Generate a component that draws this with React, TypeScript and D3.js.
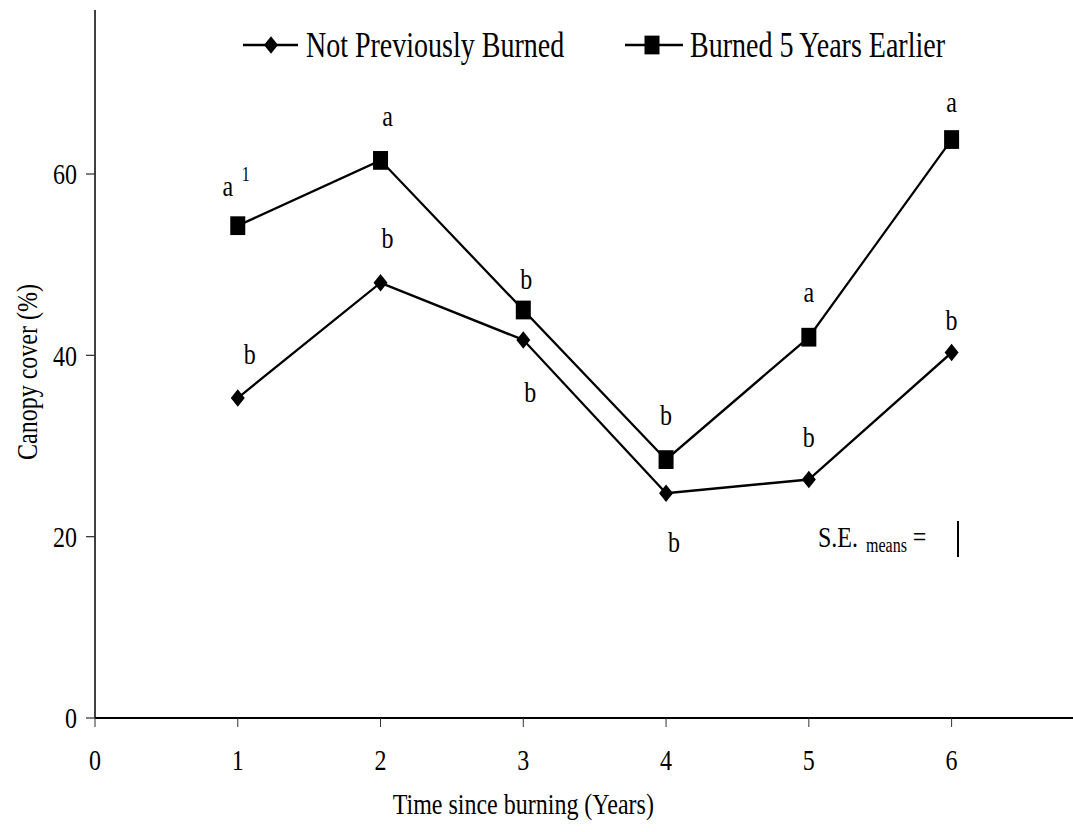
import * as d3 from 'd3'

// values
const years = [1, 2, 3, 4, 5, 6]
const notBurned = [35.3, 48.0, 41.7, 24.8, 26.3, 40.3]
const burned5 = [54.3, 61.5, 45.0, 28.5, 42.0, 63.8]
const xTicks = [0, 1, 2, 3, 4, 5, 6]
const yTicks = [0, 20, 40, 60]

// significance letters: year, height (in % units), letter, small x nudge
const letterYears = [1, 1, 2, 2, 3, 3, 4, 4, 5, 5, 6, 6]
const letterValues = [58.7, 40.2, 66.5, 53, 48.5, 36, 33.5, 19.5, 47, 31, 68, 44]
const letterTexts = ['a', 'b', 'a', 'b', 'b', 'b', 'b', 'b', 'a', 'b', 'a', 'b']
const letterNudge = [-10, 12, 7, 7, 3, 7, 0, 8, 0, 0, 0, 0]

const W = 1073
const H = 832
const S = 1.25 // the figure's text is stretched vertically
const FONT = '"Liberation Serif", "Times New Roman", serif'

export default function App() {
  const x = d3.scaleLinear().domain([0, 6]).range([95, 951.6])
  const y = d3.scaleLinear().domain([0, 60]).range([718 / S, 174 / S])
  const y0 = y(0)
  const yTop = 10 / S

  const line = d3
    .line<number>()
    .x((_, i) => x(years[i]))
    .y(d => y(d))

  const diamond = (cx: number, cy: number, r: number) =>
    `M${cx},${cy - r}L${cx + r},${cy}L${cx},${cy + r}L${cx - r},${cy}Z`

  const legendY = 45 / S

  return (
    <svg
      width={W}
      height={H}
      viewBox={`0 0 ${W} ${H / S}`}
      preserveAspectRatio="none"
      style={{ position: 'absolute', left: 0, top: 0, background: '#fff' }}
      fontFamily={FONT}
    >
      <rect width={W} height={H / S} fill="#fff" />

      {/* axes */}
      <line x1={x(0)} x2={x(0)} y1={yTop} y2={y0} stroke="#000" strokeWidth={1.5} />
      <line x1={x(0)} x2={W} y1={y0} y2={y0} stroke="#000" strokeWidth={1.5} />
      {yTicks.map(t => (
        <g key={'y' + t}>
          <line x1={x(0) - 9} x2={x(0)} y1={y(t)} y2={y(t)} stroke="#333" strokeWidth={1} />
          <text x={77} y={y(t)} dy="0.35em" textAnchor="end" fontSize={24}>
            {t}
          </text>
        </g>
      ))}
      {xTicks.map(t => (
        <g key={'x' + t}>
          <line x1={x(t)} x2={x(t)} y1={y0} y2={y0 + 9 / S} stroke="#333" strokeWidth={1} />
          <text x={x(t)} y={770 / S} textAnchor="middle" fontSize={24}>
            {t}
          </text>
        </g>
      ))}

      {/* axis titles */}
      <text x={x(3)} y={814 / S} textAnchor="middle" fontSize={24}>
        Time since burning (Years)
      </text>
      <text
        transform={`translate(26,${372 / S}) scale(${S},${1 / S}) rotate(-90)`}
        textAnchor="middle"
        dy="0.35em"
        fontSize={24}
      >
        Canopy cover (%)
      </text>

      {/* series */}
      <path d={line(notBurned) || ''} fill="none" stroke="#000" strokeWidth={2} />
      <path d={line(burned5) || ''} fill="none" stroke="#000" strokeWidth={2} />
      {notBurned.map((v, i) => (
        <path key={'d' + i} d={diamond(x(years[i]), y(v), 7)} fill="#000" />
      ))}
      {burned5.map((v, i) => (
        <rect key={'s' + i} x={x(years[i]) - 7.5} y={y(v) - 7.5} width={15} height={15} fill="#000" />
      ))}

      {/* letters */}
      {letterTexts.map((t, i) => (
        <text
          key={'l' + i}
          x={x(letterYears[i]) + letterNudge[i]}
          y={y(letterValues[i])}
          dy="0.35em"
          textAnchor="middle"
          fontSize={24}
        >
          {t}
        </text>
      ))}
      <text x={x(1) + 4} y={y(letterValues[0] + 1.3)} dy="0.35em" fontSize={16}>
        1
      </text>

      {/* legend */}
      <line x1={243} x2={298} y1={legendY} y2={legendY} stroke="#000" strokeWidth={2} />
      <path d={diamond(271, legendY, 7)} fill="#000" />
      <text x={306} y={legendY} dy="0.35em" fontSize={28}>
        Not Previously Burned
      </text>
      <line x1={625} x2={683} y1={legendY} y2={legendY} stroke="#000" strokeWidth={2} />
      <rect x={652 - 7.5} y={legendY - 7.5} width={15} height={15} fill="#000" />
      <text x={690} y={legendY} dy="0.35em" fontSize={28}>
        Burned 5 Years Earlier
      </text>

      {/* standard error note */}
      <text x={818} y={547 / S} fontSize={24}>
        S.E.
        <tspan dx={8} dy={5 / S} fontSize={16}>
          means
        </tspan>
        <tspan dx={6} dy={-5 / S} fontSize={24}>
          =
        </tspan>
      </text>
      <line x1={958} x2={958} y1={521 / S} y2={557 / S} stroke="#000" strokeWidth={2} />
    </svg>
  )
}
